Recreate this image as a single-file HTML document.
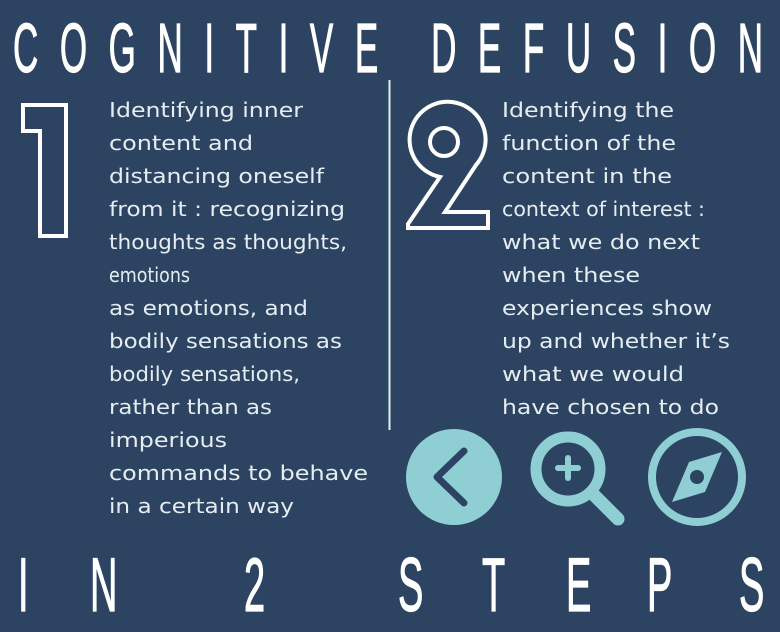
<!DOCTYPE html>
<html><head><meta charset="utf-8"><style>
html,body{margin:0;padding:0;background:#2c4462;}
svg{display:block}
.t{font-family:"Liberation Sans",sans-serif;fill:#fff;stroke:#fff;stroke-width:1.2;}
.b{font-family:"DejaVu Sans","Liberation Sans",sans-serif;font-size:20px;fill:#e6edf1;}
</style></head><body>
<svg width="780" height="632" viewBox="0 0 780 632" xmlns="http://www.w3.org/2000/svg">
<rect width="780" height="632" fill="#2c4462"/>
<g transform="translate(13,72) scale(0.5,1)">
<text class="t" x="0" y="0" font-size="70" textLength="1500" lengthAdjust="spacing">COGNITIVE DEFUSION</text>
</g>
<g class="t" font-size="76">
<text transform="translate(18,611) scale(0.5,1)">I</text>
<text transform="translate(90,611) scale(0.5,1)">N</text>
<text transform="translate(244,611) scale(0.5,1)">2</text>
<text transform="translate(398,611) scale(0.5,1)">S</text>
<text transform="translate(482,611) scale(0.5,1)">T</text>
<text transform="translate(566,611) scale(0.5,1)">E</text>
<text transform="translate(647,611) scale(0.5,1)">P</text>
<text transform="translate(739,611) scale(0.5,1)">S</text>
</g>
<line x1="389.5" y1="80" x2="389.5" y2="430" stroke="#e6edf1" stroke-width="2"/>
<path d="M23,105 L66,105 L66,236 L40,236 L40,131 L23,131 Z" fill="none" stroke="#fff" stroke-width="4"/>
<path d="M408,224 L440,177 A38 38 0 1 1 476,165 L445,212 L488,212 L488,228 L408,228 Z" fill="none" stroke="#fff" stroke-width="4"/>
<circle cx="444" cy="142" r="14" fill="none" stroke="#fff" stroke-width="4"/>
<g class="b">
<text x="109" y="117" textLength="194" lengthAdjust="spacingAndGlyphs">Identifying inner</text>
<text x="109" y="150" textLength="144" lengthAdjust="spacingAndGlyphs">content and</text>
<text x="109" y="183" textLength="215" lengthAdjust="spacingAndGlyphs">distancing oneself</text>
<text x="109" y="216" textLength="236" lengthAdjust="spacingAndGlyphs">from it : recognizing</text>
<text x="109" y="249" textLength="238" lengthAdjust="spacingAndGlyphs">thoughts as thoughts,</text>
<text x="109" y="282" textLength="81" lengthAdjust="spacingAndGlyphs">emotions</text>
<text x="109" y="315" textLength="199" lengthAdjust="spacingAndGlyphs">as emotions, and</text>
<text x="109" y="348" textLength="233" lengthAdjust="spacingAndGlyphs">bodily sensations as</text>
<text x="109" y="381" textLength="191" lengthAdjust="spacingAndGlyphs">bodily sensations,</text>
<text x="109" y="414" textLength="163" lengthAdjust="spacingAndGlyphs">rather than as</text>
<text x="109" y="447" textLength="118" lengthAdjust="spacingAndGlyphs">imperious</text>
<text x="109" y="480" textLength="259" lengthAdjust="spacingAndGlyphs">commands to behave</text>
<text x="109" y="513" textLength="185" lengthAdjust="spacingAndGlyphs">in a certain way</text>
<text x="502" y="117" textLength="172" lengthAdjust="spacingAndGlyphs">Identifying the</text>
<text x="502" y="150" textLength="174" lengthAdjust="spacingAndGlyphs">function of the</text>
<text x="502" y="183" textLength="170" lengthAdjust="spacingAndGlyphs">content in the</text>
<text x="502" y="216" textLength="203" lengthAdjust="spacingAndGlyphs">context of interest :</text>
<text x="502" y="249" textLength="198" lengthAdjust="spacingAndGlyphs">what we do next</text>
<text x="502" y="282" textLength="138" lengthAdjust="spacingAndGlyphs">when these</text>
<text x="502" y="315" textLength="210" lengthAdjust="spacingAndGlyphs">experiences show</text>
<text x="502" y="348" textLength="228" lengthAdjust="spacingAndGlyphs">up and whether it’s</text>
<text x="502" y="381" textLength="182" lengthAdjust="spacingAndGlyphs">what we would</text>
<text x="502" y="414" textLength="217" lengthAdjust="spacingAndGlyphs">have chosen to do</text>
</g>
<circle cx="454" cy="477" r="48" fill="#8fcfd3"/>
<polyline points="464,451 437,477 464,503" fill="none" stroke="#2c4462" stroke-width="7" stroke-linecap="round" stroke-linejoin="round"/>
<circle cx="568" cy="469" r="32" fill="none" stroke="#8fcfd3" stroke-width="11"/>
<line x1="593" y1="494" x2="618" y2="519" stroke="#8fcfd3" stroke-width="13" stroke-linecap="round"/>
<line x1="568" y1="458" x2="568" y2="478" stroke="#8fcfd3" stroke-width="6" stroke-linecap="round"/>
<line x1="558" y1="468" x2="578" y2="468" stroke="#8fcfd3" stroke-width="6" stroke-linecap="round"/>
<circle cx="697" cy="477" r="45" fill="none" stroke="#8fcfd3" stroke-width="8"/>
<path d="M722,452 L705,492 L672,502 L689,462 Z" fill="#8fcfd3"/>
<circle cx="697" cy="477" r="7" fill="#2c4462"/>
</svg>
</body></html>
